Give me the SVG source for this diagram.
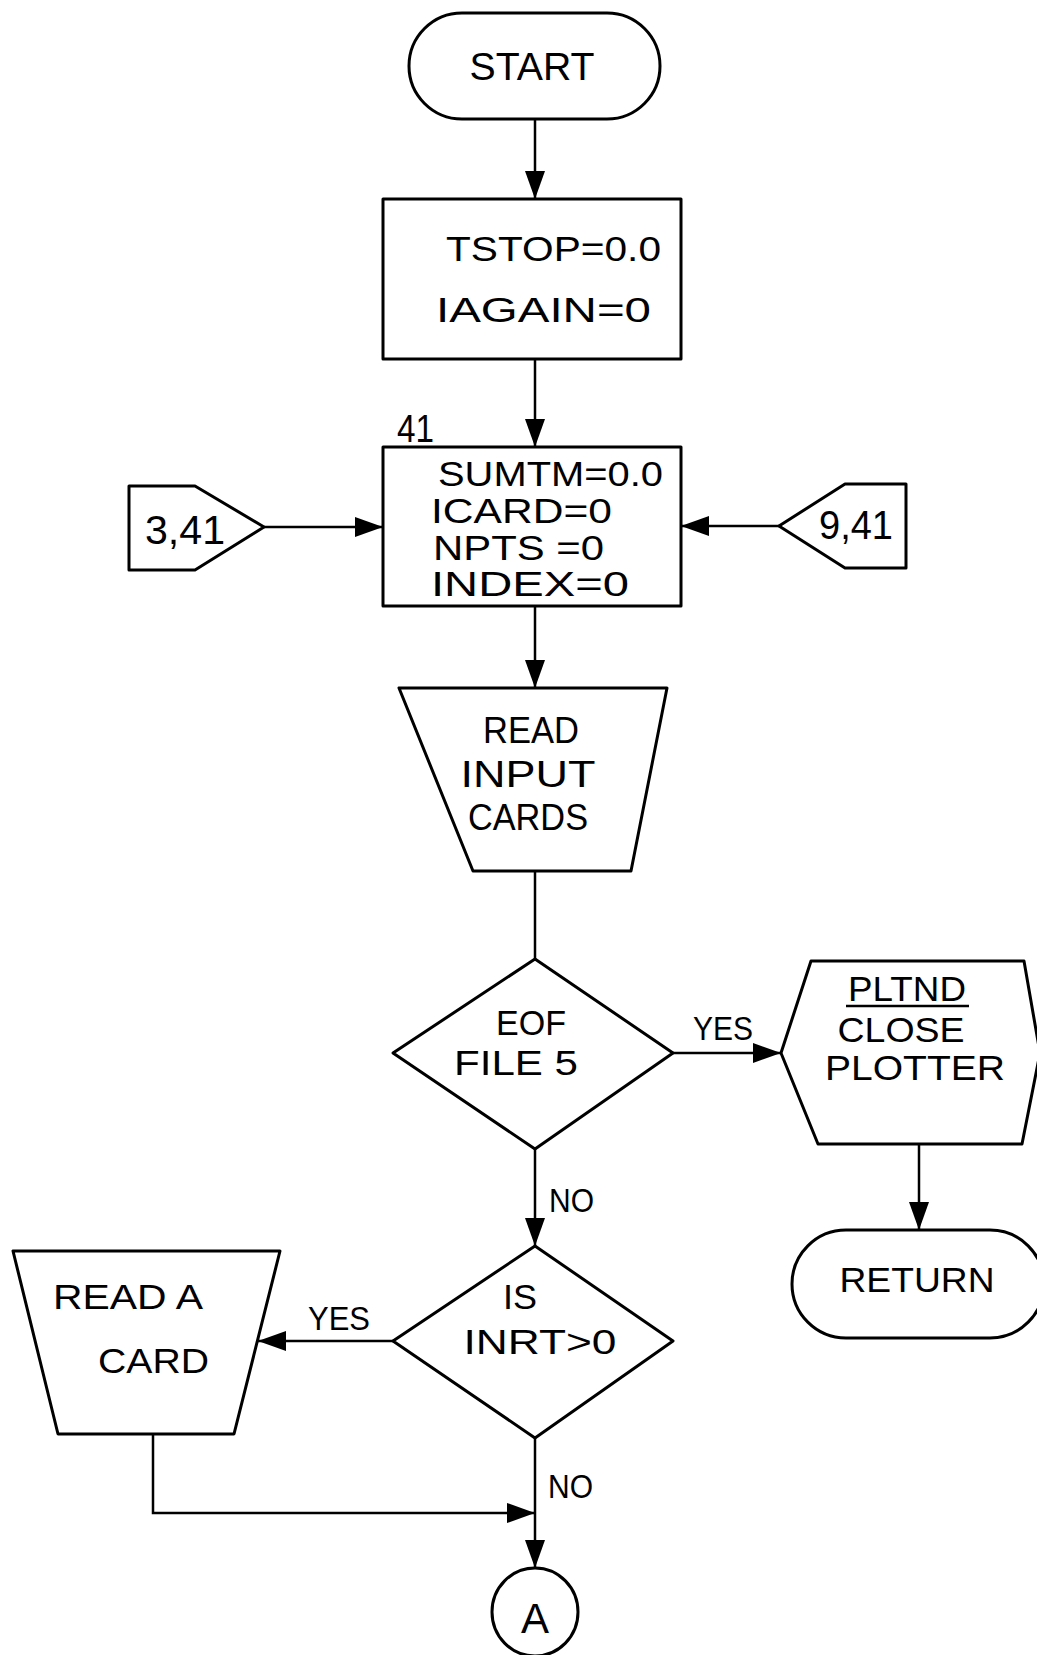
<svg xmlns="http://www.w3.org/2000/svg" width="1037" height="1655" viewBox="0 0 1037 1655" font-size="35">
<style>
.s{fill:#fff;stroke:#000;stroke-width:3;stroke-linejoin:round}
.c{fill:none;stroke:#000;stroke-width:2.5}
text{font-family:"Liberation Sans",Arial,sans-serif;fill:#000}
.m{text-anchor:middle}
</style>
<defs>
<marker id="ah" viewBox="0 0 28 20" refX="28" refY="10" markerWidth="28" markerHeight="20" markerUnits="userSpaceOnUse" orient="auto">
<path d="M0,0 L28,10 L0,20 z" fill="#000"/>
</marker>
</defs>
<rect width="1037" height="1655" fill="#fff"/>
<g id="connectors">
<path class="c" d="M535,119 V199" marker-end="url(#ah)"/>
<path class="c" d="M535,359 V447" marker-end="url(#ah)"/>
<path class="c" d="M264,527 H383" marker-end="url(#ah)"/>
<path class="c" d="M779,526 H681" marker-end="url(#ah)"/>
<path class="c" d="M535,606 V688" marker-end="url(#ah)"/>
<path class="c" d="M535,871 V959"/>
<path class="c" d="M673,1053 H781" marker-end="url(#ah)"/>
<path class="c" d="M919,1144 V1230" marker-end="url(#ah)"/>
<path class="c" d="M535,1149 V1246" marker-end="url(#ah)"/>
<path class="c" d="M393,1341 H258" marker-end="url(#ah)"/>
<path class="c" d="M153,1434 V1513 H535" marker-end="url(#ah)"/>
<path class="c" d="M535,1438 V1568" marker-end="url(#ah)"/>
<text x="693" y="1040" font-size="34" textLength="60" lengthAdjust="spacingAndGlyphs">YES</text>
<text x="549" y="1212" font-size="34" textLength="45" lengthAdjust="spacingAndGlyphs">NO</text>
<text x="308" y="1330" font-size="34" textLength="62" lengthAdjust="spacingAndGlyphs">YES</text>
<text x="548" y="1498" font-size="34" textLength="45" lengthAdjust="spacingAndGlyphs">NO</text>
</g>
<g id="start">
<rect class="s" x="409" y="13" width="251" height="106" rx="53"/>
<text x="532" y="80" class="m" font-size="38" textLength="125" lengthAdjust="spacingAndGlyphs">START</text>
</g>
<g id="init1">
<rect class="s" x="383" y="199" width="298" height="160"/>
<text x="446" y="261" textLength="215" lengthAdjust="spacingAndGlyphs">TSTOP=0.0</text>
<text x="436" y="322" textLength="215" lengthAdjust="spacingAndGlyphs">IAGAIN=0</text>
</g>
<g id="init2">
<text x="397" y="442" font-size="38" textLength="37" lengthAdjust="spacingAndGlyphs">41</text>
<rect class="s" x="383" y="447" width="298" height="159"/>
<text x="438" y="486" textLength="225" lengthAdjust="spacingAndGlyphs">SUMTM=0.0</text>
<text x="431" y="523" textLength="181" lengthAdjust="spacingAndGlyphs">ICARD=0</text>
<text x="433" y="560" textLength="171" lengthAdjust="spacingAndGlyphs">NPTS =0</text>
<text x="431" y="596" textLength="198" lengthAdjust="spacingAndGlyphs">INDEX=0</text>
</g>
<g id="conn341">
<path class="s" d="M129,486 H195 L264,527 L195,570 H129 Z"/>
<text x="145" y="544" font-size="40" textLength="80" lengthAdjust="spacingAndGlyphs">3,41</text>
</g>
<g id="conn941">
<path class="s" d="M906,484 H845 L779,526 L845,568 H906 Z"/>
<text x="819" y="539" font-size="40" textLength="74" lengthAdjust="spacingAndGlyphs">9,41</text>
</g>
<g id="readinput">
<path class="s" d="M399,688 H667 L631,871 H473 Z"/>
<text x="531" y="743" class="m" font-size="37" textLength="96" lengthAdjust="spacingAndGlyphs">READ</text>
<text x="528" y="787" class="m" font-size="37" textLength="135" lengthAdjust="spacingAndGlyphs">INPUT</text>
<text x="528" y="830" class="m" font-size="37" textLength="120" lengthAdjust="spacingAndGlyphs">CARDS</text>
</g>
<g id="eof">
<path class="s" d="M535,959 L673,1053 L535,1149 L393,1053 Z"/>
<text x="531" y="1035" class="m" font-size="35" textLength="70" lengthAdjust="spacingAndGlyphs">EOF</text>
<text x="516" y="1075" class="m" font-size="35" textLength="124" lengthAdjust="spacingAndGlyphs">FILE 5</text>
</g>
<g id="pltnd">
<path class="s" d="M811,961 H1024 L1040,1053 L1022,1144 H818 L781,1053 Z"/>
<text x="907" y="1001" class="m" font-size="35" textLength="118" lengthAdjust="spacingAndGlyphs">PLTND</text>
<path class="c" d="M846,1006 H969"/>
<text x="901" y="1042" class="m" font-size="35" textLength="127" lengthAdjust="spacingAndGlyphs">CLOSE</text>
<text x="915" y="1080" class="m" font-size="35" textLength="180" lengthAdjust="spacingAndGlyphs">PLOTTER</text>
</g>
<g id="return">
<rect class="s" x="792" y="1230" width="252" height="108" rx="54"/>
<text x="917" y="1292" class="m" font-size="35" textLength="155" lengthAdjust="spacingAndGlyphs">RETURN</text>
</g>
<g id="inrt">
<path class="s" d="M535,1246 L673,1341 L535,1438 L393,1341 Z"/>
<text x="520" y="1309" class="m" font-size="35" textLength="34" lengthAdjust="spacingAndGlyphs">IS</text>
<text x="540" y="1354" class="m" font-size="35" textLength="153" lengthAdjust="spacingAndGlyphs">INRT&gt;0</text>
</g>
<g id="readcard">
<path class="s" d="M13,1251 H280 L234,1434 H58 Z"/>
<text x="53" y="1309" font-size="35" textLength="150" lengthAdjust="spacingAndGlyphs">READ  A</text>
<text x="98" y="1373" font-size="35" textLength="111" lengthAdjust="spacingAndGlyphs">CARD</text>
</g>
<g id="connA">
<ellipse class="s" cx="535" cy="1612" rx="43" ry="44"/>
<text x="535" y="1633" class="m" font-size="42">A</text>
</g>
</svg>
